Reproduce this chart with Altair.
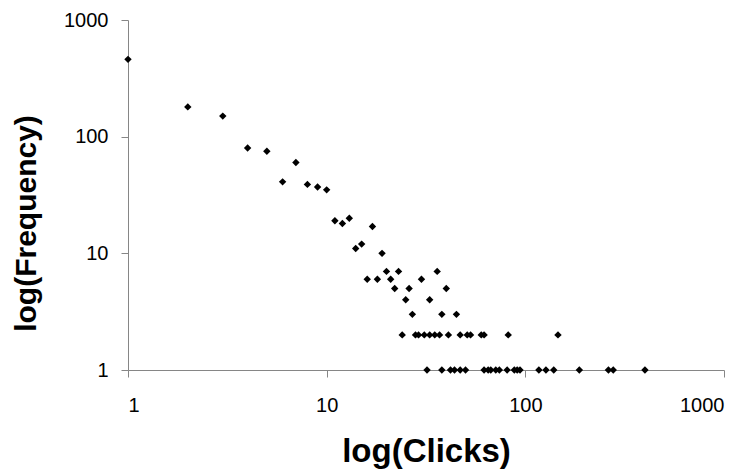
import altair as alt
import pandas as pd

# Clicks (x) and how often each occurred (y)
clicks_main = [1, 2, 3, 4, 5, 6, 7, 8, 9, 10,
               11, 12, 13, 14, 15, 16, 17, 18, 19, 20,
               21, 22, 23, 25, 26, 27, 30, 33, 36, 38, 40, 45]
freq_main = [460, 180, 150, 80, 75, 41, 60, 39, 37, 35,
             19, 18, 20, 11, 12, 6, 17, 6, 10, 7,
             6, 5, 7, 4, 5, 3, 6, 4, 7, 3, 5, 3]

clicks_freq2 = [24, 28, 29, 31, 33, 35, 37, 41, 47, 51, 53, 60, 62, 82, 146]
clicks_freq1 = [32, 38, 42, 44, 47, 50, 62, 65, 67, 71, 74, 81, 88, 91, 94,
                117, 127, 139, 187, 262, 277, 400]

x_ticks = [1, 10, 100, 1000]
y_ticks = [1, 10, 100, 1000]

clicks = clicks_main + clicks_freq2 + clicks_freq1
freq = freq_main + [2] * len(clicks_freq2) + [1] * len(clicks_freq1)
df = pd.DataFrame({"clicks": clicks, "freq": freq})

FONT = "Liberation Sans"
AXIS_GREY = "#868686"

chart = alt.Chart(df).mark_point(
    shape="diamond", filled=True, color="black", opacity=1, size=55
).encode(
    x=alt.X("clicks:Q",
            scale=alt.Scale(type="log", domain=[1, 1000], nice=False),
            axis=alt.Axis(values=x_ticks, format="d", title="log(Clicks)",
                          grid=False, tickSize=7, labelPadding=18,
                          labelFontSize=20, labelFont=FONT, labelColor="black",
                          domainColor=AXIS_GREY, tickColor=AXIS_GREY,
                          titleFont=FONT, titleFontSize=33, titleFontWeight="bold",
                          titleColor="black", titleBaseline="middle",
                          titleX=298, titleY=81)),
    y=alt.Y("freq:Q",
            scale=alt.Scale(type="log", domain=[1, 1000], nice=False),
            axis=alt.Axis(values=y_ticks, format="d", title="log(Frequency)",
                          grid=False, tickSize=7, labelPadding=13,
                          labelFontSize=20, labelFont=FONT, labelColor="black",
                          domainColor=AXIS_GREY, tickColor=AXIS_GREY,
                          titleFont=FONT, titleFontSize=30, titleFontWeight="bold",
                          titleColor="black", titleAngle=270,
                          titleBaseline="middle", titleAlign="center",
                          titleX=-102, titleY=203)),
).properties(
    width=596,
    height=350,
    autosize=alt.AutoSizeParams(type="none"),
    padding={"left": 120, "top": 12, "right": 17, "bottom": 100},
).configure_view(stroke=None)

chart.save("out.html", embed_options={"renderer": "svg", "actions": False})
